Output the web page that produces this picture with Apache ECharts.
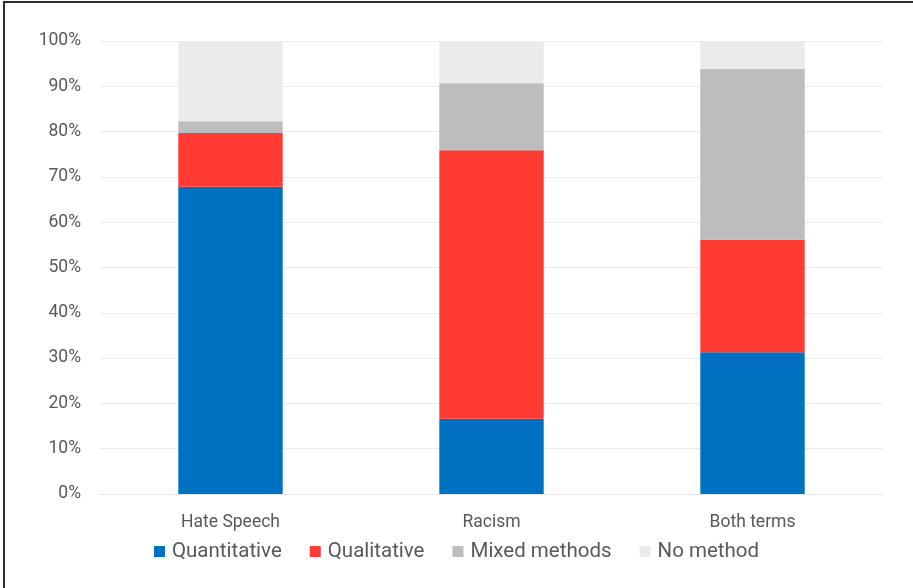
<!DOCTYPE html>
<html>
<head>
<meta charset="utf-8">
<script src="https://cdn.jsdelivr.net/npm/echarts@6/dist/echarts.min.js"></script>
<style>
html,body{margin:0;padding:0;background:#fff;}
#frame{position:absolute;left:3px;top:1px;width:915px;height:590px;border-left:2px solid #2b2b2b;border-top:2px solid #2b2b2b;box-sizing:border-box;pointer-events:none;z-index:2;}
#chart{position:absolute;left:0;top:0;width:913px;height:588px;}
</style>
</head>
<body>
<div id="chart"></div>
<div id="frame"></div>
<script>
const categories = ['Hate Speech', 'Racism', 'Both terms'];
const quantitative = [67.8, 16.6, 31.3];
const qualitative = [11.9, 59.3, 24.8];
const mixedMethods = [2.6, 14.8, 37.7];
const noMethod = [17.7, 9.3, 6.2];
const yTicks = [0, 10, 20, 30, 40, 50, 60, 70, 80, 90, 100];

const font = 'Roboto, "Liberation Sans", sans-serif';
const chart = echarts.init(document.getElementById('chart'), null, {renderer: 'canvas'});
function s(name, data, color) {
  return {name, type: 'bar', stack: 'total', data, barWidth: '40%',
    itemStyle: {color}, emphasis: {disabled: true}};
}
chart.setOption({
  animation: false,
  textStyle: {fontFamily: font},
  grid: {left: 100, right: 30, top: 41, bottom: 94},
  legend: {
    bottom: 21, left: 'center',
    itemWidth: 11, itemHeight: 11, itemGap: 28,
    icon: 'rect',
    textStyle: {fontSize: 20.5, color: '#595959', fontFamily: font, padding: [0, 0, 0, 2]},
    data: ['Quantitative', 'Qualitative', 'Mixed methods', 'No method']
  },
  xAxis: {
    type: 'category', data: categories,
    axisLine: {show: true, lineStyle: {color: '#e6e6e6', width: 1}},
    axisTick: {show: false},
    axisLabel: {fontSize: 17.5, color: '#595959', margin: 20}
  },
  yAxis: {
    type: 'value', min: yTicks[0], max: yTicks[yTicks.length - 1], interval: 10,
    axisLine: {show: false}, axisTick: {show: false},
    splitLine: {lineStyle: {color: '#ebebeb', width: 1}},
    axisLabel: {fontSize: 17.5, color: '#595959', margin: 19, formatter: v => v + '%'}
  },
  series: [
    s('Quantitative', quantitative, '#0070c0'),
    s('Qualitative', qualitative, '#ff3b33'),
    s('Mixed methods', mixedMethods, '#bdbdbd'),
    s('No method', noMethod, '#ebebeb')
  ]
});
</script>
</body>
</html>
